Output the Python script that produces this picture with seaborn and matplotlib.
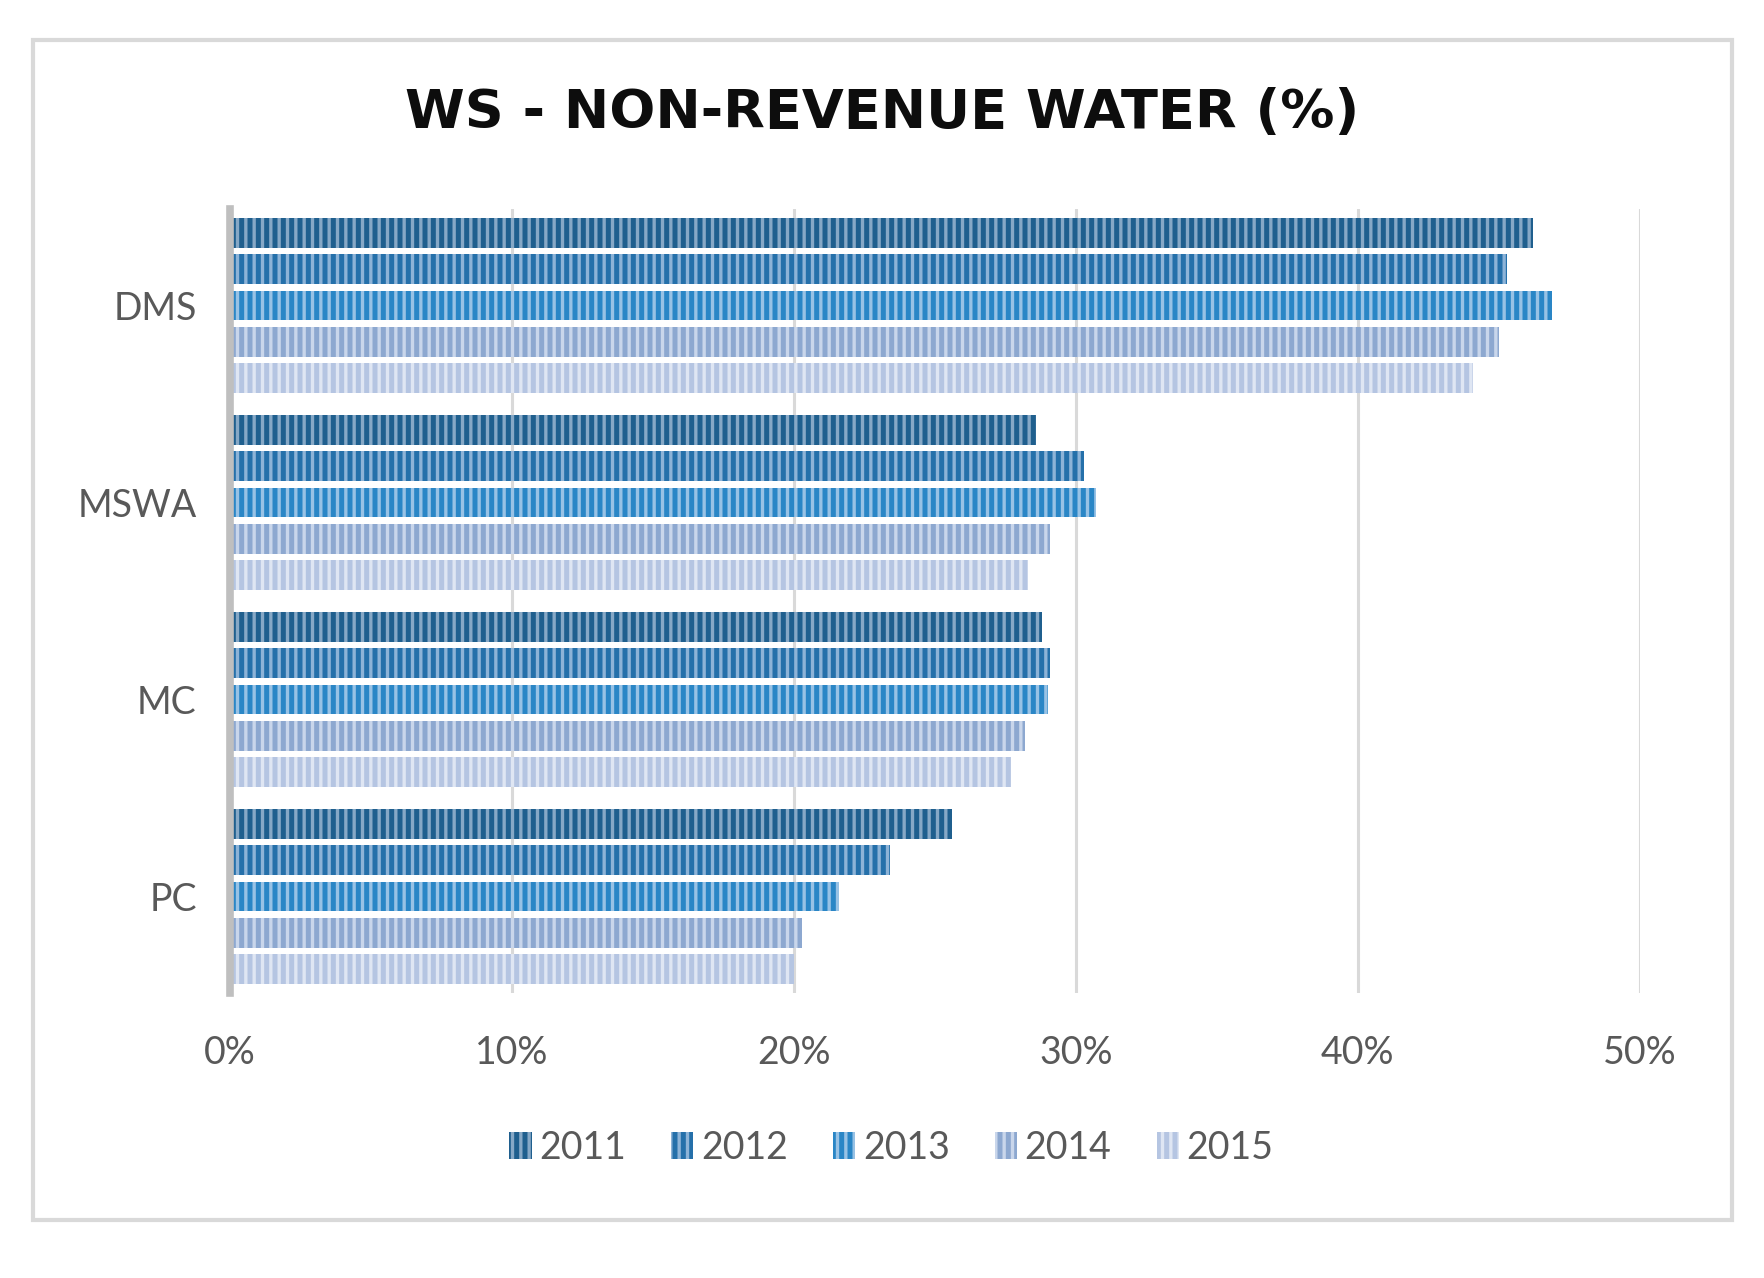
import matplotlib
matplotlib.use("Agg")
import matplotlib.pyplot as plt
from matplotlib.patches import Patch, Rectangle
import pandas as pd
import seaborn as sns

# data (percent)
utilities = ["DMS", "MSWA", "MC", "PC"]
years = ["2011", "2012", "2013", "2014", "2015"]
nrw_2011 = [46.2, 28.6, 28.8, 25.6]
nrw_2012 = [45.3, 30.3, 29.1, 23.4]
nrw_2013 = [46.9, 30.7, 29.0, 21.6]
nrw_2014 = [45.0, 29.1, 28.2, 20.3]
nrw_2015 = [44.1, 28.3, 27.7, 20.0]

rows = []
for yr, vals in zip(years, [nrw_2011, nrw_2012, nrw_2013, nrw_2014, nrw_2015]):
    for u, v in zip(utilities, vals):
        rows.append({"utility": u, "year": yr, "nrw": v})
df = pd.DataFrame(rows)

face = ["#1F5F8E", "#2570AA", "#2A86C6", "#8DA8D0", "#B5C5E2"]
stripe = ["#86A8C6", "#8DB3D7", "#98C2E5", "#C9D6EB", "#DFE6F3"]

sns.set_style("white")
plt.rcParams["font.family"] = ["Lato", "DejaVu Sans"]
plt.rcParams["hatch.linewidth"] = 2.4

fig = plt.figure(figsize=(17.65, 12.78), dpi=100)
ax = fig.add_axes([0.1303, 0.223, 0.7987, 0.6135])

sns.barplot(data=df, y="utility", x="nrw", hue="year", order=utilities,
            hue_order=years, palette=face, orient="h", width=0.92, gap=0.18,
            legend=False, ax=ax, saturation=1)

# striped fill like the original
for i, cont in enumerate(ax.containers):
    for p in cont:
        p.set_facecolor(face[i])
        p.set_edgecolor(stripe[i])
        p.set_linewidth(0)
        p.set_hatch("||")

ax.set_xlim(0, 50)
ax.set_ylim(3.49, -0.49)
ax.set_xticks([0, 10, 20, 30, 40, 50])
ax.set_xticklabels([f"{t}%" for t in [0, 10, 20, 30, 40, 50]])
ax.xaxis.grid(True, color="#D9D9D9", linewidth=2.2)
ax.set_axisbelow(True)
ax.set_xlabel("")
ax.set_ylabel("")
for s in ["top", "right", "bottom"]:
    ax.spines[s].set_visible(False)
ax.spines["left"].set_color("#BFBFBF")
ax.spines["left"].set_linewidth(5.5)
ax.tick_params(axis="y", length=0, pad=24, labelsize=27, labelcolor="#595959")
ax.tick_params(axis="x", length=0, pad=30, labelsize=27, labelcolor="#595959")

fig.text(0.5, 0.9116, "WS - NON-REVENUE WATER (%)", ha="center", va="center",
         fontsize=39, fontweight="bold", color="#0D0D0D", family="DejaVu Sans")

handles = [Patch(facecolor=face[i], edgecolor=stripe[i], hatch="||", linewidth=0,
                 label=years[i]) for i in range(len(years))]
fig.legend(handles=handles, loc="center", bbox_to_anchor=(0.505, 0.102), ncol=5,
           frameon=False, fontsize=27, labelcolor="#595959", handlelength=0.6,
           handleheight=0.7, handletextpad=0.2, columnspacing=1.2)

fig.patches.append(Rectangle((0.0187, 0.0453), 0.9626, 0.9235, transform=fig.transFigure,
                             fill=False, edgecolor="#D9D9D9", linewidth=3))

fig.savefig("out.png", dpi=100)
